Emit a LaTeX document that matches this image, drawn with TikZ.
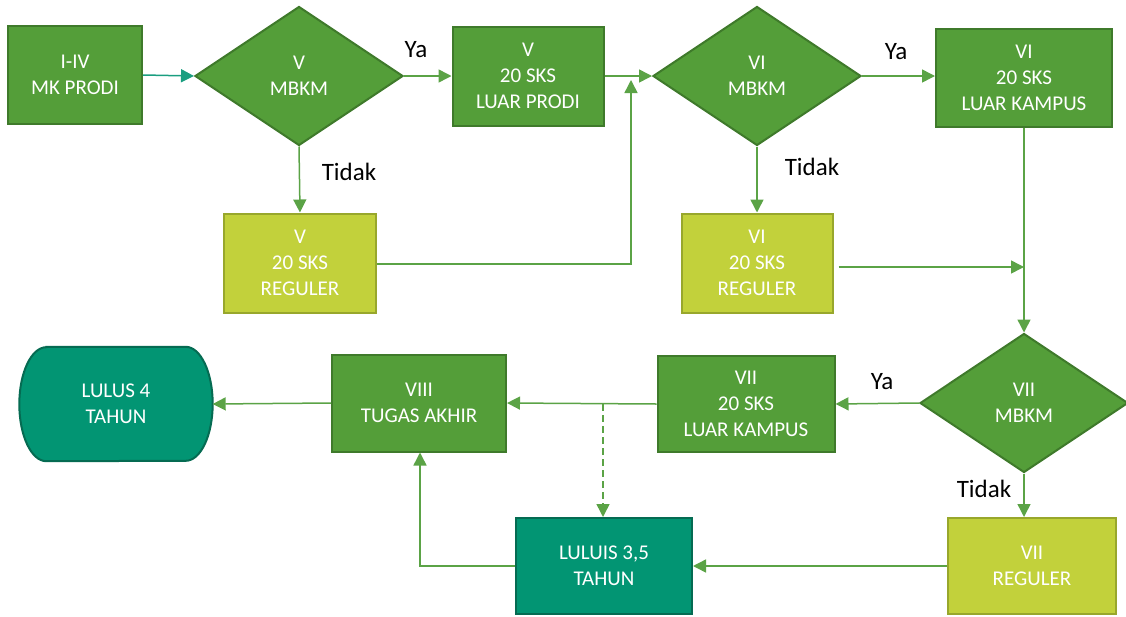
\documentclass[tikz,border=0pt]{standalone}
\usepackage{fontspec}
\setmainfont{Carlito}
\usetikzlibrary{shapes.geometric,arrows.meta,backgrounds}
\definecolor{gfill}{HTML}{549E39}
\definecolor{gdraw}{HTML}{3F7A2B}
\definecolor{rfill}{HTML}{C2D13B}
\definecolor{rdraw}{HTML}{98A72C}
\definecolor{tfill}{HTML}{029573}
\definecolor{tdraw}{HTML}{056B52}
\definecolor{lcol}{HTML}{5BA346}
\definecolor{tline}{HTML}{1A9E80}
\tikzset{
  boxtext/.style={text=white,font=\fontsize{21}{26}\selectfont,align=center,inner sep=0pt},
  gbox/.style={boxtext,draw=gdraw,fill=gfill,line width=2pt,minimum width=#1},
  gbox/.default=150pt,
  rbox/.style={boxtext,draw=rdraw,fill=rfill,line width=2pt},
  tbox/.style={boxtext,draw=tdraw,fill=tfill,line width=2pt},
  dia/.style={boxtext,diamond,draw=gdraw,fill=gfill,line width=2pt,minimum width=208pt,minimum height=139pt},
  conn/.style={draw=lcol,line width=1.5pt,-{Triangle[length=13pt,width=13pt]}},
  lbl/.style={font=\fontsize{25}{30}\selectfont,text=black,inner sep=0pt}
}
\begin{document}
\begin{tikzpicture}[x=1pt,y=-1pt]
\useasboundingbox (0,0) rectangle (1126,616);
% top row
\node[gbox=134pt,minimum height=98pt] (a) at (75,75) {I-IV\\MK PRODI};
\node[dia] (d1) at (299,76) {V\\MBKM};
\node[gbox=151pt,minimum height=99pt] (b) at (528,76) {\rule{0pt}{5pt}V\\20 SKS\\LUAR PRODI};
\node[dia] (d2) at (757,76) {VI\\MBKM};
\node[gbox=176pt,minimum height=98pt] (c) at (1024,78) {\rule{0pt}{5pt}VI\\20 SKS\\LUAR KAMPUS};
% second row
\node[rbox,minimum width=152pt,minimum height=99pt] (r1) at (300,263) {\rule{0pt}{5pt}V\\20 SKS\\REGULER};
\node[rbox,minimum width=151pt,minimum height=99pt] (r2) at (757,263) {\rule{0pt}{5pt}VI\\20 SKS\\REGULER};
% third row
\node[dia] (d3) at (1024,403) {VII\\MBKM};
\node[gbox=177pt,minimum height=96pt] (e) at (746,404) {\rule{0pt}{5pt}VII\\20 SKS\\LUAR KAMPUS};
\node[gbox=174pt,minimum height=97pt] (f) at (419,403) {VIII\\TUGAS AKHIR};
\node[boxtext,minimum width=193pt,minimum height=114pt] (l4) at (116,404) {LULUS 4\\TAHUN};
\begin{scope}[on background layer]
\draw[draw=tdraw,fill=tfill,line width=2pt]
  ([xshift=27pt]l4.north west) -- ([xshift=-27pt]l4.north east)
  arc[start angle=90,end angle=-90,x radius=27pt,y radius=57pt]
  -- ([xshift=27pt]l4.south west)
  arc[start angle=270,end angle=90,x radius=27pt,y radius=57pt] -- cycle;
\end{scope}
% bottom row
\node[tbox,minimum width=176pt,minimum height=96pt] (l35) at (604,566) {LULUIS 3,5\\TAHUN};
\node[rbox,minimum width=168pt,minimum height=96pt] (r3) at (1032,566) {VII\\REGULER};
% helper coordinates
\coordinate (j1) at (631,264);
\coordinate (j1t) at (631,80);
\coordinate (j2) at (1024,267);
\coordinate (j3) at (603,404);
\coordinate (j4) at (420,566);
% connectors
\draw[conn,draw=tline] (a.east) -- (d1.west);
\draw[conn] (d1.east) -- (b.west);
\draw[conn] (b.east) -- (d2.west);
\draw[conn] (d2.east) -- (c.west |- d2.east);
\draw[conn] (d1.south) -- (r1.north);
\draw[conn] (d2.south) -- (r2.north);
\draw[conn] (r1.east |- j1) -- (j1) -- (j1t);
\draw[conn] (c.south) -- (d3.north);
\draw[conn,shorten <=5pt] (r2.east |- j2) -- (j2);
\draw[conn] (d3.west) -- (e.east);
\draw[conn] (e.west) -- (f.east);
\draw[conn] (f.west) -- (l4.east);
\draw[conn,dash pattern=on 7pt off 4pt] (j3) -- (l35.north -| j3);
\draw[conn] (d3.south) -- (r3.north -| d3.south);
\draw[conn] (r3.west) -- (l35.east);
\draw[conn] (l35.west) -- (j4) -- (f.south -| j4);
% labels
\node[lbl] (ya1) at (416,50) {Ya};
\node[lbl] (ya2) at (896,52) {Ya};
\node[lbl] (ya3) at (882,382) {Ya};
\node[lbl] (t1) at (349,172) {Tidak};
\node[lbl] (t2) at (812,167) {Tidak};
\node[lbl] (t3) at (984,489) {Tidak};
\end{tikzpicture}
\end{document}
